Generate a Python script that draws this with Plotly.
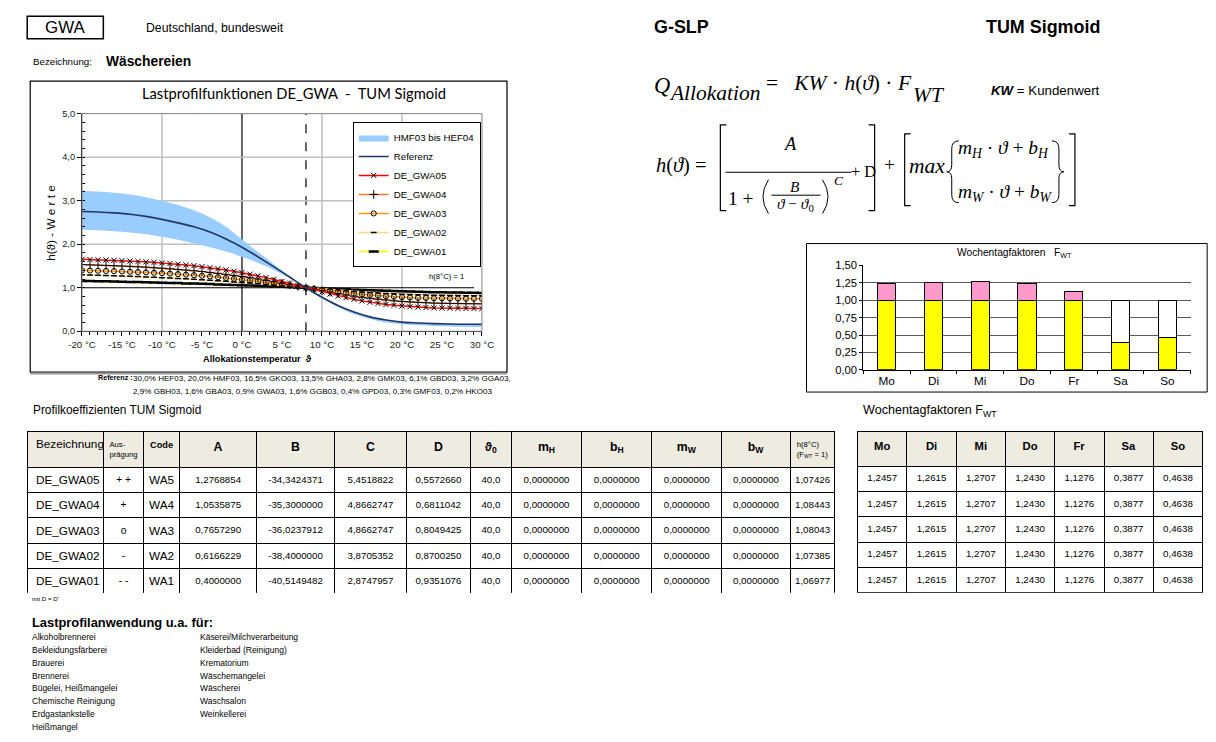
import re
import plotly.graph_objects as go

W, H = 1216, 742
# The page has an 8 px body margin, and the photographed page comes out slightly
# shrunk around its centre. Layout positions are given in target pixels and mapped here.
OFF = 8
SX, SY = 0.977, 0.987
CX, CY = 608, 371.4
SANS = "Liberation Sans, Arial, sans-serif"
SERIF = "Liberation Serif, DejaVu Serif, serif"

# Profilkurven, normiert auf h(8 °C) = 1, Raster 1 °C
temps = list(range(-20, 31))
gwa05 = [1.653, 1.648, 1.643, 1.637, 1.630, 1.623, 1.614, 1.605, 1.595, 1.584, 1.572,
         1.558, 1.542, 1.525, 1.507, 1.486, 1.463, 1.438, 1.410, 1.380, 1.347,
         1.311, 1.273, 1.232, 1.189, 1.144, 1.097, 1.049, 1.000, 0.951, 0.903,
         0.857, 0.813, 0.771, 0.733, 0.698, 0.666, 0.639, 0.615, 0.595, 0.578,
         0.564, 0.553, 0.544, 0.537, 0.532, 0.528, 0.525, 0.523, 0.521, 0.520]
gwa04 = [1.531, 1.526, 1.520, 1.514, 1.507, 1.499, 1.491, 1.482, 1.472, 1.461, 1.449,
         1.436, 1.422, 1.406, 1.390, 1.372, 1.352, 1.331, 1.308, 1.283, 1.257,
         1.229, 1.200, 1.169, 1.137, 1.104, 1.070, 1.035, 1.000, 0.965, 0.931,
         0.898, 0.866, 0.835, 0.807, 0.781, 0.757, 0.736, 0.717, 0.700, 0.686,
         0.674, 0.663, 0.655, 0.648, 0.643, 0.639, 0.636, 0.633, 0.631, 0.630]
gwa03 = [1.399, 1.395, 1.390, 1.385, 1.380, 1.374, 1.367, 1.360, 1.352, 1.344, 1.334,
         1.324, 1.313, 1.301, 1.288, 1.275, 1.259, 1.243, 1.226, 1.207, 1.188,
         1.167, 1.145, 1.122, 1.099, 1.075, 1.050, 1.025, 1.000, 0.975, 0.951,
         0.928, 0.906, 0.885, 0.865, 0.848, 0.831, 0.817, 0.804, 0.793, 0.783,
         0.775, 0.768, 0.763, 0.758, 0.755, 0.752, 0.750, 0.748, 0.747, 0.746]
gwa02 = [1.298, 1.293, 1.288, 1.282, 1.276, 1.270, 1.263, 1.256, 1.249, 1.241, 1.232,
         1.224, 1.214, 1.204, 1.194, 1.183, 1.171, 1.159, 1.147, 1.134, 1.120,
         1.106, 1.092, 1.077, 1.062, 1.046, 1.031, 1.015, 1.000, 0.985, 0.970,
         0.955, 0.941, 0.927, 0.914, 0.902, 0.890, 0.880, 0.870, 0.861, 0.853,
         0.846, 0.839, 0.834, 0.829, 0.825, 0.822, 0.819, 0.817, 0.815, 0.813]
gwa01 = [1.157, 1.153, 1.150, 1.146, 1.142, 1.138, 1.134, 1.130, 1.125, 1.121, 1.116,
         1.111, 1.106, 1.100, 1.095, 1.089, 1.083, 1.077, 1.071, 1.064, 1.058,
         1.051, 1.044, 1.037, 1.030, 1.022, 1.015, 1.008, 1.000, 0.993, 0.985,
         0.978, 0.970, 0.963, 0.956, 0.949, 0.942, 0.936, 0.929, 0.923, 0.918,
         0.912, 0.907, 0.903, 0.898, 0.894, 0.891, 0.888, 0.885, 0.883, 0.881]

# Referenz und Band HMF03 bis HEF04, Raster 2 °C
ref_temps = list(range(-20, 31, 2))
ref_vals = [2.75, 2.74, 2.72, 2.69, 2.64, 2.57, 2.49, 2.40, 2.28, 2.12, 1.93, 1.71, 1.48,
            1.24, 1.00, 0.78, 0.59, 0.44, 0.33, 0.26, 0.21, 0.19, 0.175, 0.165, 0.16, 0.16]
band_upper = [3.23, 3.21, 3.18, 3.14, 3.08, 3.00, 2.90, 2.78, 2.62, 2.40, 2.11, 1.82, 1.54,
              1.26, 1.00, 0.79, 0.60, 0.45, 0.34, 0.27, 0.22, 0.20, 0.185, 0.175, 0.17, 0.17]
band_lower = [2.33, 2.32, 2.30, 2.27, 2.23, 2.17, 2.10, 2.02, 1.93, 1.83, 1.71, 1.57, 1.41,
              1.22, 1.00, 0.75, 0.55, 0.39, 0.28, 0.20, 0.16, 0.135, 0.12, 0.11, 0.105, 0.10]

days = ["Mo", "Di", "Mi", "Do", "Fr", "Sa", "So"]
fwt = [1.2457, 1.2615, 1.2707, 1.2430, 1.1276, 0.3877, 0.4638]

profile_names = ["DE_GWA05", "DE_GWA04", "DE_GWA03", "DE_GWA02", "DE_GWA01"]
auspraegung = ["+ +", "+", "o", "-", "- -"]
codes = ["WA5", "WA4", "WA3", "WA2", "WA1"]
coef_A = [1.2768854, 1.0535875, 0.7657290, 0.6166229, 0.4000000]
coef_B = [-34.3424371, -35.3000000, -36.0237912, -38.4000000, -40.5149482]
coef_C = [5.4518822, 4.8662747, 4.8662747, 3.8705352, 2.8747957]
coef_D = [0.5572660, 0.6811042, 0.8049425, 0.8700250, 0.9351076]
theta0 = [40.0, 40.0, 40.0, 40.0, 40.0]
m_H = [0.0, 0.0, 0.0, 0.0, 0.0]
b_H = [0.0, 0.0, 0.0, 0.0, 0.0]
m_W = [0.0, 0.0, 0.0, 0.0, 0.0]
b_W = [0.0, 0.0, 0.0, 0.0, 0.0]
h8 = [1.07426, 1.08443, 1.08043, 1.07385, 1.06977]

referenz_1 = ("30,0% HEF03, 20,0% HMF03, 16,5% GKO03, 13,5% GHA03, 2,8% GMK03, "
              "6,1% GBD03, 3,2% GGA03,")
referenz_2 = ("2,9% GBH03, 1,6% GBA03, 0,9% GWA03, 1,6% GGB03, 0,4% GPD03, "
              "0,3% GMF03, 0,2% HKO03")
anwendung_1 = ["Alkoholbrennerei", "Bekleidungsfärberei", "Brauerei", "Brennerei",
               "Bügelei, Heißmangelei", "Chemische Reinigung", "Erdgastankstelle", "Heißmangel"]
anwendung_2 = ["Käserei/Milchverarbeitung", "Kleiderbad (Reinigung)", "Krematorium",
               "Wäschemangelei", "Wäscherei", "Waschsalon", "Weinkellerei"]


def de(v, n):
    return f"{v:.{n}f}".replace(".", ",")


def z(v):  # font / marker size
    return v / SX


def zy(v):  # vertical pixel size
    return v / SY


def fx(x):  # target pixel -> paper
    p = CX + (x - CX) / SX - OFF
    return min(max(p, 0.75), W - 0.75) / W


def fy(y):
    p = CY + (y - CY) / SY - OFF
    return 1 - min(max(p, 0.75), H - 0.75) / H


annotations = []
shapes = []


def txt(x, y, s, size=10, anchor="left", family=SANS, angle=0):
    annotations.append(dict(x=fx(x), y=fy(y), xref="paper", yref="paper", text=s,
                            showarrow=False, xanchor=anchor, yanchor="middle", textangle=angle,
                            font=dict(size=z(size), family=family, color="black")))


def line(x0, y0, x1, y1, color="black", width=1):
    shapes.append(dict(type="line", xref="paper", yref="paper", x0=fx(x0), y0=fy(y0),
                       x1=fx(x1), y1=fy(y1), line=dict(color=color, width=width)))


def rect(x0, y0, x1, y1, color="black", width=1):
    shapes.append(dict(type="rect", xref="paper", yref="paper", x0=fx(x0), y0=fy(y0),
                       x1=fx(x1), y1=fy(y1), line=dict(color=color, width=width)))


def path(d, width=1.2):
    def conv(m):
        return f"{fx(float(m.group(1))):.5f},{fy(float(m.group(2))):.5f}"
    shapes.append(dict(type="path", xref="paper", yref="paper",
                       path=re.sub(r"([\d.]+),([\d.]+)", conv, d),
                       line=dict(color="black", width=width)))


def data_line(x0, x1, y0, y1, color, width=1.2, dash="solid", yref="y"):
    shapes.append(dict(type="line", xref="x", yref=yref, x0=x0, x1=x1, y0=y0, y1=y1,
                       layer="below", line=dict(color=color, width=width, dash=dash)))


fig = go.Figure()

# Band und Kurven
fig.add_trace(go.Scatter(x=ref_temps, y=band_lower, mode="lines", line=dict(width=0, shape="spline"),
                         showlegend=False, hoverinfo="skip", xaxis="x", yaxis="y"))
fig.add_trace(go.Scatter(x=ref_temps, y=band_upper, mode="lines", fill="tonexty",
                         fillcolor="#99CCFF", line=dict(width=0, shape="spline", color="#99CCFF"),
                         name="HMF03 bis HEF04", legendrank=1, xaxis="x", yaxis="y"))

series = [
    ("DE_GWA01", gwa01, "#FFFF00", "line-ew", 7, 2.5, 7),
    ("DE_GWA02", gwa02, "#FFD27F", "line-ew", 4, 1.5, 6),
    ("DE_GWA03", gwa03, "#FF9900", "circle-open", 5, 1, 5),
    ("DE_GWA04", gwa04, "#FF7A2E", "cross-thin", 6, 1, 4),
    ("DE_GWA05", gwa05, "#FF0000", "x-thin", 5, 1, 3),
]
for name, vals, col, sym, size, lw, rank in series:
    fig.add_trace(go.Scatter(x=temps, y=vals, mode="lines+markers", name=name, legendrank=rank,
                             line=dict(color=col, width=1.5),
                             marker=dict(symbol=sym, size=z(size), color="black",
                                         line=dict(color="black", width=lw)),
                             xaxis="x", yaxis="y"))

fig.add_trace(go.Scatter(x=ref_temps, y=ref_vals, mode="lines", name="Referenz", legendrank=2,
                         line=dict(color="#1F3864", width=1.6, shape="spline"),
                         xaxis="x", yaxis="y"))

# Wochentagfaktoren
yellow = [min(v, 1.0) for v in fwt]
pink = [max(v - 1.0, 0.0) for v in fwt]
blank = [max(1.0 - v, 0.0) for v in fwt]
for vals, col in [(yellow, "#FFFF00"), (pink, "#FF99CC"), (blank, "white")]:
    fig.add_trace(go.Bar(x=days, y=vals, marker=dict(color=col, line=dict(color="black", width=1)),
                         showlegend=False, xaxis="x2", yaxis="y2", hoverinfo="skip"))

# Tabelle Profilkoeffizienten
col_w = [76, 39.4, 36.6, 76.7, 78.3, 71.7, 64.3, 40.7, 70.7, 70, 70, 68.6, 44.7]
fig.add_trace(go.Table(
    domain=dict(x=[fx(27.7), fx(834)], y=[fy(594), fy(431.7)]),
    columnwidth=col_w,
    header=dict(values=["Bezeichnung", "Aus-<br>prägung", "<b>Code</b>", "<b>A</b>", "<b>B</b>",
                        "<b>C</b>", "<b>D</b>", "<b>ϑ<sub>0</sub></b>", "<b>m<sub>H</sub></b>",
                        "<b>b<sub>H</sub></b>", "<b>m<sub>W</sub></b>", "<b>b<sub>W</sub></b>",
                        "h(8°C)<br>(F<sub>WT</sub> = 1)"],
                fill_color="#EEECE1", height=zy(34), line=dict(color="black", width=1),
                align=["left"] + ["center"] * 12,
                font=dict(family=SANS, color="black",
                          size=[z(v) for v in [11.5, 7.5, 9, 12, 12, 12, 12, 12, 12, 12, 12, 12, 7.5]])),
    cells=dict(values=[profile_names, auspraegung, codes,
                       [de(v, 7) for v in coef_A], [de(v, 7) for v in coef_B],
                       [de(v, 7) for v in coef_C], [de(v, 7) for v in coef_D],
                       [de(v, 1) for v in theta0], [de(v, 7) for v in m_H],
                       [de(v, 7) for v in b_H], [de(v, 7) for v in m_W],
                       [de(v, 7) for v in b_W], [de(v, 5) for v in h8]],
               fill_color="white", height=zy(25), line=dict(color="black", width=1),
               align=["left"] + ["center"] * 12,
               font=dict(family=SANS, color="black",
                         size=[z(v) for v in [11.5, 10, 11.5] + [9.5] * 10]))))

# Tabelle Wochentagfaktoren
fig.add_trace(go.Table(
    domain=dict(x=[fx(856), fx(1201)], y=[fy(594), fy(431.7)]),
    header=dict(values=[f"<b>{d}</b>" for d in days], fill_color="#EEECE1", height=zy(34),
                line=dict(color="black", width=1), align="center",
                font=dict(family=SANS, color="black", size=z(11))),
    cells=dict(values=[[de(v, 4)] * len(profile_names) for v in fwt], fill_color="white",
               height=zy(25), line=dict(color="black", width=1), align="center",
               font=dict(family=SANS, color="black", size=z(9.5)))))

# Kopf
rect(27, 15, 103, 37.5, width=1.5)
txt(65, 26.5, "GWA", 16.5, anchor="center")
txt(144, 27, "Deutschland, bundesweit", 12)
txt(31, 60, "Bezeichnung:", 9.5)
txt(104, 59.5, "<b>Wäschereien</b>", 13.5)
txt(651, 26, "<b>G-SLP</b>", 17.5)
txt(1100, 26, "<b>TUM Sigmoid</b>", 17.5, anchor="right")

# Formel Q
txt(651, 84, "<i>Q</i>", 22, family=SERIF)
txt(666, 92, "<i>Allokation</i>", 21, family=SERIF)
txt(763, 82, "=\u00a0\u00a0 <i>KW</i> · <i>h</i>(<i>ϑ</i>) · <i>F</i>", 21, family=SERIF)
txt(909, 94, "<i>WT</i>", 21, family=SERIF)
txt(1100, 89, "<b><i>KW</i></b> = Kundenwert", 13, anchor="right")

# Formel h
txt(653, 165, "<i>h</i>(<i>ϑ</i>) =", 20, family=SERIF)
path("M 725,124 L 719,124 L 719,210 L 725,210")
path("M 867,124 L 873,124 L 873,210 L 867,210")
txt(789, 143, "<i>A</i>", 18, anchor="center", family=SERIF)
line(724, 171.5, 850, 171.5, width=1)
txt(740, 198, "1 +", 19, anchor="center", family=SERIF)
path("M 767,179 Q 756,196 767,213", width=1)
path("M 821,179 Q 832,196 821,213", width=1)
txt(794, 186, "<i>B</i>", 15, anchor="center", family=SERIF)
line(770, 194.5, 819, 194.5, width=1)
txt(794, 204, "<i>ϑ</i> − <i>ϑ</i><sub>0</sub>", 15, anchor="center", family=SERIF)
txt(837, 180, "<i>C</i>", 13, anchor="center", family=SERIF)
txt(847, 171, "+ D", 16, family=SERIF)
txt(888, 164, "+", 19, anchor="center", family=SERIF)
path("M 909,133 L 903,133 L 903,205 L 909,205")
path("M 1067,133 L 1073,133 L 1073,205 L 1067,205")
txt(905, 165, "<i>max</i>", 21, family=SERIF)
path("M 957,140 Q 950,140 950,148 L 950,164 Q 950,171 945,171 Q 950,171 950,178 "
     "L 950,194 Q 950,202 957,202", width=1)
path("M 1050,140 Q 1057,140 1057,148 L 1057,164 Q 1057,171 1062,171 Q 1057,171 1057,178 "
     "L 1057,194 Q 1057,202 1050,202", width=1)
txt(954, 148, "<i>m<sub>H</sub></i> · <i>ϑ</i> + <i>b<sub>H</sub></i>", 19, family=SERIF)
txt(954, 192, "<i>m<sub>W</sub></i> · <i>ϑ</i> + <i>b<sub>W</sub></i>", 19, family=SERIF)

# Diagramm Lastprofilfunktionen
rect(30, 80, 506, 372, width=1.2)
line(30, 373.5, 506, 373.5, color="#9A9A9A", width=2)
rect(81.7, 112.7, 481, 331, color="#808080", width=1)
txt(293, 92, "Lastprofilfunktionen DE_GWA\u00a0\u00a0-\u00a0\u00a0TUM Sigmoid", 14.4,
    anchor="center", family="Lato, Open Sans, sans-serif")
txt(50, 222, "h(ϑ) - W e r t e", 11.5, anchor="center", angle=-90)
txt(257, 359, "<b>Allokationstemperatur\u00a0\u00a0ϑ</b>", 9, anchor="center")
txt(446, 276.5, "h(8°C) = 1", 7.5, anchor="center")

for gx in [-10, 10, 20]:
    data_line(gx, gx, 0, 1, "#C0C0C0", width=1.5, yref="y domain")
for gy in [2, 3, 4]:
    data_line(-20, 30, gy, gy, "#C0C0C0", width=1.5)
data_line(0, 0, 0, 1, "black", yref="y domain")
data_line(8, 8, 0, 1, "black", dash="dash", yref="y domain")
data_line(-20, 29, 1, 1, "black")

# Diagramm Wochentagfaktoren
rect(805, 243, 1205, 392, width=1)
txt(1013, 253, "Wochentagfaktoren\u00a0\u00a0\u00a0F<sub>WT</sub>", 10, anchor="center")
txt(859, 411, "Wochentagfaktoren F<sub>WT</sub>", 12.3)

# Texte unten
txt(96, 378, "<b>Referenz :</b>", 7)
txt(131, 378, referenz_1, 7.9)
txt(131, 391, referenz_2, 7.9)
txt(31, 410, "Profilkoeffizienten TUM Sigmoid", 11.6)
txt(30, 599, "mit D = D'", 6)
txt(30, 623, "<b>Lastprofilanwendung u.a. für:</b>", 12.6)
for i, s in enumerate(anwendung_1):
    txt(30, 637.7 + i * 12.9, s, 8.3)
for i, s in enumerate(anwendung_2):
    txt(198, 637.7 + i * 12.9, s, 8.3)

fig.update_layout(
    width=W, height=H, margin=dict(l=0, r=0, t=0, b=0),
    paper_bgcolor="white", plot_bgcolor="white",
    font=dict(family=SANS, color="black"),
    barmode="stack", bargap=0.61,
    showlegend=True,
    legend=dict(x=fx(352), y=fy(121), xanchor="left", yanchor="top", traceorder="normal",
                bgcolor="white", bordercolor="black", borderwidth=1,
                font=dict(size=z(9.5), family=SANS), tracegroupgap=0),
    xaxis=dict(domain=[fx(81.7), fx(481)], anchor="y", range=[-20, 30],
               tickvals=list(range(-20, 31, 5)),
               ticktext=[f"{t} °C" for t in range(-20, 31, 5)],
               ticks="outside", ticklen=4, tickcolor="black", showline=True,
               linecolor="black", linewidth=1.2, showgrid=False, zeroline=False,
               tickfont=dict(size=z(9.5), color="#222"),
               minor=dict(dtick=1, ticks="outside", ticklen=3, tickcolor="black", showgrid=False)),
    yaxis=dict(domain=[fy(331), fy(112.7)], anchor="x", range=[0, 5],
               tickvals=[0, 1, 2, 3, 4, 5], ticktext=[de(v, 1) for v in range(6)],
               ticks="outside", ticklen=4, tickcolor="black", showline=True,
               linecolor="black", linewidth=1.2, showgrid=False, zeroline=False,
               tickfont=dict(size=z(9), color="#222"),
               minor=dict(dtick=0.2, ticks="inside", ticklen=3, tickcolor="black", showgrid=False)),
    xaxis2=dict(domain=[fx(861.7), fx(1188.6)], anchor="y2", type="category",
                categoryorder="array", categoryarray=days, range=[-0.5, 6.5],
                showline=True, linecolor="black", ticks="outside", tickson="boundaries",
                ticklen=3, tickcolor="black", tickfont=dict(size=z(11.5))),
    yaxis2=dict(domain=[fy(369.7), fy(265)], anchor="x2", range=[0, 1.5],
                tickvals=[0, 0.25, 0.5, 0.75, 1.0, 1.25, 1.5],
                ticktext=[de(v, 2) for v in [0, 0.25, 0.5, 0.75, 1.0, 1.25, 1.5]],
                showline=True, linecolor="black", ticks="outside", ticklen=3,
                tickcolor="black", showgrid=True, gridcolor="#5A5A5A", gridwidth=1.2,
                zeroline=False, tickfont=dict(size=z(11))),
    annotations=annotations, shapes=shapes,
)

fig.write_html("out.html", config={"displayModeBar": False})
